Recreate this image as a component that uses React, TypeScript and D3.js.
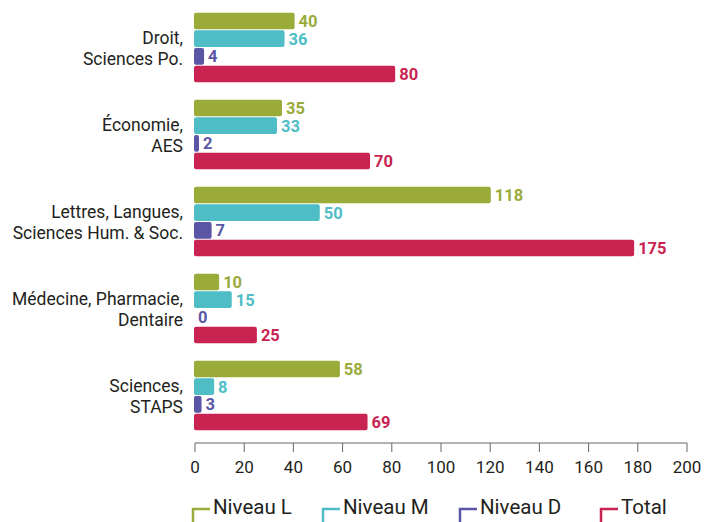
import React from "react";
import * as d3 from "d3";

const categories = [
  ["Droit,", "Sciences Po."],
  ["Économie,", "AES"],
  ["Lettres, Langues,", "Sciences Hum. & Soc."],
  ["Médecine, Pharmacie,", "Dentaire"],
  ["Sciences,", "STAPS"],
];
const seriesNames = ["Niveau L", "Niveau M", "Niveau D", "Total"];
const niveauL = [40, 35, 118, 10, 58];
const niveauM = [36, 33, 50, 15, 8];
const niveauD = [4, 2, 7, 0, 3];
const total = [80, 70, 175, 25, 69];
const xTicks = [0, 20, 40, 60, 80, 100, 120, 140, 160, 180, 200];
const colors = ["#9aab3a", "#4fbdc6", "#5a56a5", "#c92352"];

const FONT = "Roboto, 'DejaVu Sans Condensed', sans-serif";

const App = () => {
  const width = 713;
  const height = 522;
  const series = [niveauL, niveauM, niveauD, total];

  // axis scale
  const x = d3.scaleLinear().domain([0, 200]).range([195, 687]);
  // bars in the original run a touch longer than the axis
  const xb = d3.scaleLinear().domain([0, 200]).range([194, 697]);
  const y0 = d3
    .scaleBand<number>()
    .domain(categories.map((_, i) => i))
    .range([4, 439])
    .paddingInner(0.2)
    .paddingOuter(0.1);
  const y1 = d3
    .scaleBand<number>()
    .domain(seriesNames.map((_, i) => i))
    .range([0, y0.bandwidth()])
    .paddingInner(0.06);

  const axisY = 443;

  return (
    <svg
      width={width}
      height={height}
      style={{ position: "absolute", left: 0, top: 0, background: "#fff" }}
      fontFamily={FONT}
    >
      {categories.map((lines, ci) => {
        const gy = y0(ci)!;
        const mid = gy + y0.bandwidth() / 2;
        return (
          <g key={ci}>
            {lines.map((l, li) => (
              <text
                key={li}
                x={183}
                y={mid + (li - 0.5) * 21 + 1}
                dy="0.35em"
                textAnchor="end"
                fontSize={17.5}
                fill="#231f20"
              >
                {l}
              </text>
            ))}
            {series.map((s, si) => {
              const by = gy + y1(si)!;
              const w = xb(s[ci]) - xb(0);
              return (
                <g key={si}>
                  {s[ci] > 0 && (
                    <rect
                      x={xb(0)}
                      y={by}
                      width={w}
                      height={y1.bandwidth()}
                      rx={2}
                      fill={colors[si]}
                    />
                  )}
                  <text
                    x={xb(s[ci]) + 4}
                    y={by + y1.bandwidth() / 2}
                    dy="0.36em"
                    fontSize={16.5}
                    fontWeight="bold"
                    fill={colors[si]}
                  >
                    {s[ci]}
                  </text>
                </g>
              );
            })}
          </g>
        );
      })}

      <g>
        <line x1={x(0)} x2={x(200)} y1={axisY} y2={axisY} stroke="#666" strokeWidth={1} />
        {xTicks.map((t) => (
          <g key={t} transform={`translate(${x(t)},0)`}>
            <line y1={axisY} y2={axisY + 9} stroke="#666" strokeWidth={1} />
            <text y={axisY + 24} dy="0.35em" textAnchor="middle" fontSize={17} fill="#231f20">
              {t}
            </text>
          </g>
        ))}
      </g>

      {seriesNames.map((n, i) => {
        const lx = [193, 323, 460, 601][i];
        return (
          <g key={n}>
            <path
              d={`M${lx},522 V509 H${lx + 17}`}
              fill="none"
              stroke={colors[i]}
              strokeWidth={2.5}
            />
            <text x={lx + 20} y={507} dy="0.35em" fontSize={20.5} fill="#231f20">
              {n}
            </text>
          </g>
        );
      })}
    </svg>
  );
};

export default App;
